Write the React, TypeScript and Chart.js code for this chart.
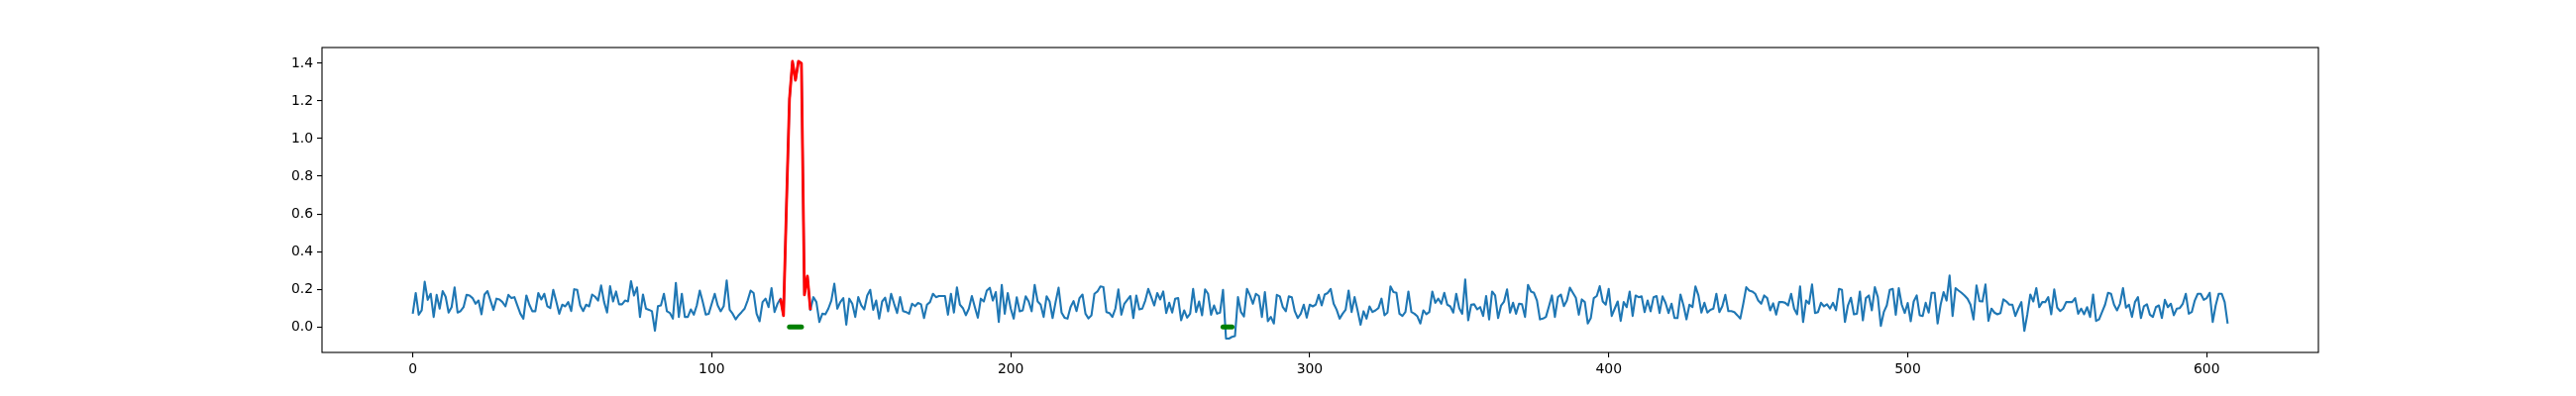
import React, { useEffect, useRef } from "react";
import { Chart, registerables } from "chart.js";
import type { Plugin } from "chart.js";

Chart.register(...registerables);

// sensor signal, one value per sample (0..607)
const signal: number[] = [
  0.07, 0.18, 0.065, 0.088, 0.24, 0.144, 0.176, 0.053, 0.17, 0.097,
  0.19, 0.16, 0.076, 0.105, 0.21, 0.076, 0.084, 0.105, 0.17, 0.167,
  0.153, 0.123, 0.14, 0.067, 0.172, 0.19, 0.14, 0.09, 0.15, 0.146,
  0.132, 0.109, 0.17, 0.153, 0.158, 0.114, 0.07, 0.044, 0.167, 0.118,
  0.083, 0.083, 0.18, 0.146, 0.176, 0.11, 0.1, 0.197, 0.135, 0.07,
  0.118, 0.109, 0.132, 0.084, 0.2, 0.197, 0.114, 0.084, 0.118, 0.109,
  0.172, 0.16, 0.14, 0.22, 0.132, 0.076, 0.216, 0.135, 0.188, 0.12,
  0.12, 0.14, 0.135, 0.243, 0.167, 0.21, 0.053, 0.172, 0.097, 0.091,
  0.083, -0.02, 0.11, 0.114, 0.176, 0.083, 0.074, 0.044, 0.234, 0.053,
  0.176, 0.053, 0.053, 0.093, 0.065, 0.114, 0.193, 0.132, 0.065, 0.07,
  0.123, 0.176, 0.114, 0.083, 0.11, 0.246, 0.091, 0.07, 0.04, 0.062,
  0.079, 0.097, 0.14, 0.193, 0.18, 0.07, 0.03, 0.132, 0.15, 0.105,
  0.206, 0.079, 0.123, 0.15, 0.06, 0.65, 1.21, 1.41, 1.31, 1.41,
  1.4, 0.17, 0.27, 0.09, 0.158, 0.132, 0.026, 0.07, 0.067, 0.097,
  0.14, 0.229, 0.097, 0.132, 0.153, 0.012, 0.15, 0.123, 0.053, 0.158,
  0.115, 0.093, 0.167, 0.197, 0.091, 0.14, 0.044, 0.135, 0.155, 0.083,
  0.176, 0.123, 0.074, 0.158, 0.084, 0.079, 0.07, 0.123, 0.11, 0.127,
  0.12, 0.047, 0.118, 0.132, 0.176, 0.158, 0.164, 0.164, 0.164, 0.065,
  0.176, 0.076, 0.21, 0.118, 0.1, 0.062, 0.097, 0.164, 0.105, 0.049,
  0.15, 0.135, 0.193, 0.208, 0.14, 0.185, 0.026, 0.223, 0.07, 0.18,
  0.097, 0.044, 0.157, 0.083, 0.088, 0.162, 0.135, 0.083, 0.223, 0.135,
  0.118, 0.053, 0.162, 0.135, 0.047, 0.132, 0.208, 0.076, 0.049, 0.044,
  0.105, 0.137, 0.084, 0.153, 0.172, 0.07, 0.045, 0.062, 0.176, 0.188,
  0.215, 0.211, 0.079, 0.074, 0.053, 0.097, 0.199, 0.065, 0.123, 0.144,
  0.164, 0.047, 0.167, 0.093, 0.097, 0.14, 0.202, 0.158, 0.114, 0.18,
  0.146, 0.188, 0.074, 0.128, 0.076, 0.15, 0.153, 0.035, 0.088, 0.049,
  0.07, 0.202, 0.079, 0.135, 0.062, 0.199, 0.176, 0.065, 0.114, 0.07,
  0.076, 0.197, -0.062, -0.062, -0.053, -0.049, 0.158, 0.079, 0.056, 0.202,
  0.167, 0.123, 0.176, 0.164, 0.053, 0.185, 0.03, 0.053, 0.018, 0.17,
  0.162, 0.105, 0.083, 0.162, 0.158, 0.083, 0.047, 0.07, 0.118, 0.049,
  0.118, 0.109, 0.118, 0.17, 0.114, 0.172, 0.18, 0.202, 0.123, 0.091,
  0.044, 0.07, 0.091, 0.193, 0.079, 0.158, 0.088, 0.012, 0.083, 0.044,
  0.109, 0.079, 0.088, 0.1, 0.15, 0.062, 0.076, 0.215, 0.185, 0.181,
  0.07, 0.058, 0.079, 0.188, 0.079, 0.07, 0.056, 0.018, 0.088, 0.067,
  0.079, 0.188, 0.128, 0.15, 0.123, 0.181, 0.118, 0.109, 0.076, 0.176,
  0.1, 0.07, 0.252, 0.035, 0.118, 0.12, 0.093, 0.105, 0.058, 0.164,
  0.04, 0.188, 0.167, 0.047, 0.114, 0.135, 0.199, 0.076, 0.128, 0.07,
  0.123, 0.12, 0.053, 0.223, 0.188, 0.181, 0.14, 0.04, 0.044, 0.053,
  0.109, 0.167, 0.053, 0.158, 0.172, 0.11, 0.14, 0.208, 0.181, 0.155,
  0.065, 0.146, 0.132, 0.018, 0.047, 0.153, 0.164, 0.216, 0.135, 0.118,
  0.202, 0.058, 0.097, 0.135, 0.032, 0.132, 0.105, 0.188, 0.058, 0.167,
  0.158, 0.162, 0.079, 0.14, 0.083, 0.158, 0.164, 0.074, 0.162, 0.127,
  0.074, 0.123, 0.047, 0.047, 0.172, 0.114, 0.04, 0.118, 0.105, 0.215,
  0.167, 0.076, 0.128, 0.076, 0.091, 0.097, 0.176, 0.079, 0.11, 0.17,
  0.084, 0.084, 0.079, 0.062, 0.044, 0.123, 0.211, 0.193, 0.188, 0.176,
  0.14, 0.123, 0.167, 0.153, 0.088, 0.125, 0.065, 0.132, 0.132, 0.128,
  0.114, 0.176, 0.097, 0.067, 0.215, 0.026, 0.14, 0.123, 0.225, 0.074,
  0.079, 0.128, 0.109, 0.12, 0.097, 0.128, 0.088, 0.202, 0.197, 0.026,
  0.114, 0.155, 0.067, 0.07, 0.188, 0.035, 0.153, 0.167, 0.088, 0.211,
  0.158, 0.005, 0.079, 0.114, 0.197, 0.202, 0.065, 0.206, 0.118, 0.074,
  0.127, 0.03, 0.135, 0.167, 0.062, 0.058, 0.128, 0.076, 0.181, 0.181,
  0.018, 0.118, 0.185, 0.14, 0.273, 0.058, 0.206, 0.193, 0.181, 0.167,
  0.15, 0.118, 0.04, 0.22, 0.137, 0.135, 0.225, 0.032, 0.097, 0.076,
  0.067, 0.073, 0.146, 0.135, 0.118, 0.118, 0.058, 0.097, 0.132, -0.021,
  0.067, 0.172, 0.135, 0.206, 0.105, 0.132, 0.132, 0.158, 0.067, 0.199,
  0.102, 0.084, 0.097, 0.132, 0.132, 0.132, 0.153, 0.07, 0.097, 0.067,
  0.105, 0.053, 0.172, 0.032, 0.04, 0.079, 0.118, 0.181, 0.176, 0.118,
  0.088, 0.123, 0.206, 0.102, 0.118, 0.053, 0.132, 0.158, 0.047, 0.11,
  0.12, 0.065, 0.053, 0.105, 0.114, 0.047, 0.144, 0.105, 0.123, 0.062,
  0.097, 0.1, 0.123, 0.176, 0.07, 0.079, 0.14, 0.176, 0.176, 0.144,
  0.153, 0.181, 0.026, 0.114, 0.176, 0.176, 0.132, 0.018,
];

// true anomaly (red), sample indices inclusive
const anomalyStart = 123;
const anomalyEnd = 133;

// detected ranges (green), drawn at y = 0
const flaggedRanges: [number, number][] = [
  [126, 130],
  [271, 274],
];

const xTicks = [0, 100, 200, 300, 400, 500, 600];
const yTicks = [0, 0.2, 0.4, 0.6, 0.8, 1.0, 1.2, 1.4];

const tickFont = { family: "DejaVu Sans", size: 13.9 };

// matplotlib-like box around the axes
const frame: Plugin<"line"> = {
  id: "frame",
  afterDraw(chart) {
    const { ctx, chartArea: a } = chart;
    ctx.save();
    ctx.strokeStyle = "#000";
    ctx.lineWidth = 1.1;
    ctx.strokeRect(a.left, a.top, a.right - a.left, a.bottom - a.top);
    ctx.restore();
  },
};

const App: React.FC = () => {
  const canvasRef = useRef<HTMLCanvasElement>(null);

  useEffect(() => {
    const ctx = canvasRef.current?.getContext("2d");
    if (!ctx) return;

    const points = signal.map((y, x) => ({ x, y }));
    const anomaly = points.slice(anomalyStart, anomalyEnd + 1);

    const lo = Math.min(...signal);
    const hi = Math.max(...signal);
    const yPad = (hi - lo) * 0.05;
    const xPad = (signal.length - 1) * 0.05;

    const chart = new Chart(ctx, {
      type: "line",
      data: {
        datasets: [
          {
            data: points,
            borderColor: "#1f77b4",
            borderWidth: 2.1,
            pointRadius: 0,
            tension: 0,
            borderJoinStyle: "round",
            order: 3,
          },
          {
            data: anomaly,
            borderColor: "#ff0000",
            borderWidth: 2.8,
            pointRadius: 0,
            tension: 0,
            borderJoinStyle: "round",
            order: 2,
          },
          ...flaggedRanges.map(([a, b]) => ({
            data: [
              { x: a, y: 0 },
              { x: b, y: 0 },
            ],
            borderColor: "#008000",
            borderWidth: 5,
            borderCapStyle: "round" as const,
            pointRadius: 0,
            order: 1,
          })),
        ],
      },
      options: {
        animation: false,
        responsive: false,
        devicePixelRatio: 1,
        layout: { padding: { left: 0, right: 260, top: 48, bottom: 0 } },
        plugins: { legend: { display: false }, tooltip: { enabled: false } },
        scales: {
          x: {
            type: "linear",
            min: -xPad,
            max: signal.length - 1 + xPad,
            afterBuildTicks: (s) => {
              s.ticks = xTicks.map((value) => ({ value }));
            },
            afterFit: (s) => {
              s.height = 44;
            },
            ticks: {
              font: tickFont,
              color: "#000",
              padding: 4,
              maxRotation: 0,
              autoSkip: false,
              callback: (v) => String(v),
            },
            grid: { drawOnChartArea: false, tickLength: 5, color: "#000", lineWidth: 1.1 },
            border: { display: false },
          },
          y: {
            type: "linear",
            min: lo - yPad,
            max: hi + yPad,
            afterBuildTicks: (s) => {
              s.ticks = yTicks.map((value) => ({ value }));
            },
            afterFit: (s) => {
              s.width = 325;
            },
            ticks: {
              font: tickFont,
              color: "#000",
              padding: 4,
              autoSkip: false,
              callback: (v) => Number(v).toFixed(1),
            },
            grid: { drawOnChartArea: false, tickLength: 5, color: "#000", lineWidth: 1.1 },
            border: { display: false },
          },
        },
      },
      plugins: [frame],
    });

    return () => {
      chart.destroy();
    };
  }, []);

  return (
    <div style={{ position: "absolute", left: 0, top: 0, width: 2600, height: 400, background: "#fff" }}>
      <canvas ref={canvasRef} width={2600} height={400} />
    </div>
  );
};

export default App;
